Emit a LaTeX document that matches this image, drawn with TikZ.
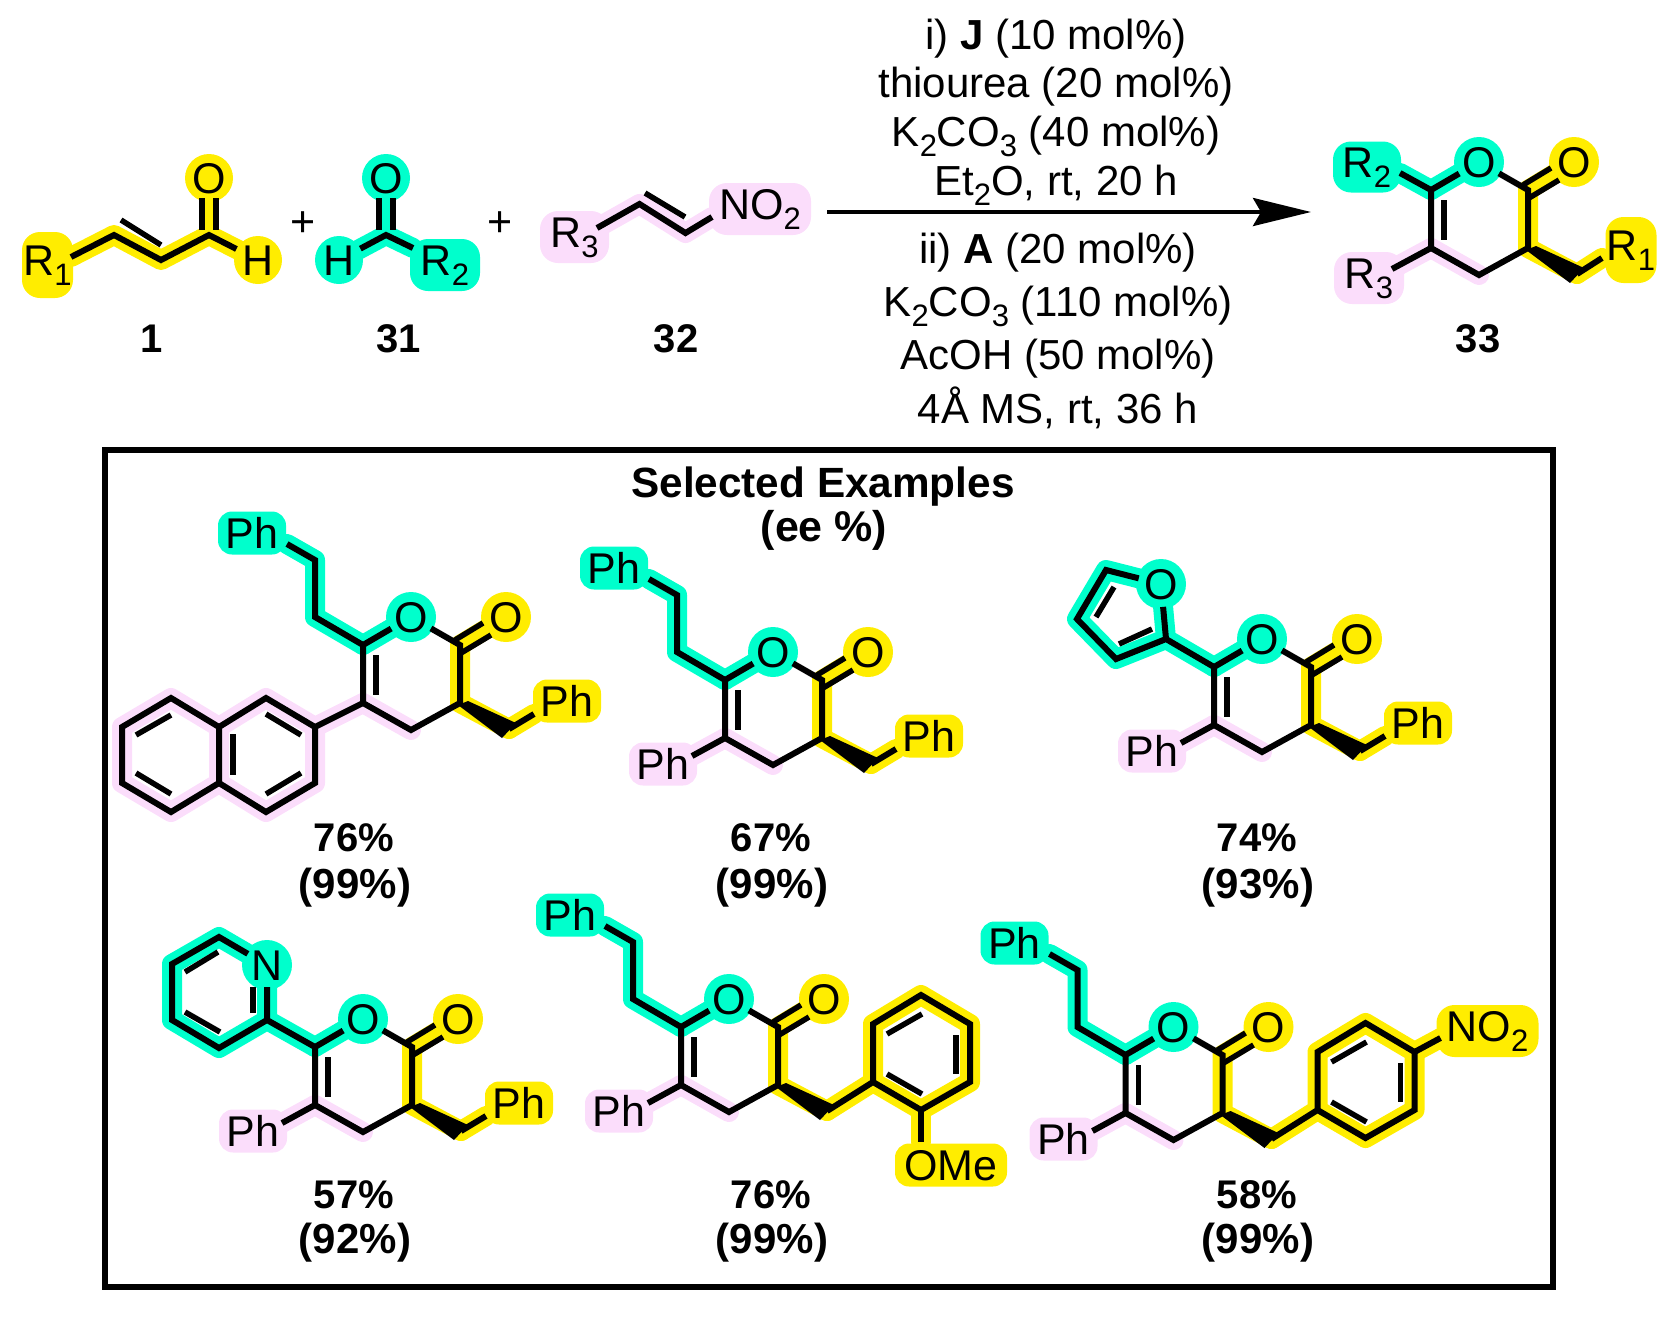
\documentclass[tikz,border=0pt]{standalone}
\usepackage{fontspec}
\setmainfont{Liberation Sans}
\usetikzlibrary{arrows.meta}
\definecolor{chemyellow}{HTML}{FFED00}
\definecolor{chemmint}{HTML}{00FFCC}
\definecolor{chempink}{HTML}{FBDDFB}
\newcommand{\labelfont}{\fontsize{43pt}{48pt}\selectfont}
\newcommand{\lowered}[1]{\raisebox{-10pt}{\fontsize{31pt}{31pt}\selectfont #1}}
\tikzset{
  bond/.style={line width=6pt, color=black},
  inner/.style={line width=5.5pt, color=black},
  glowy/.style={line width=20pt, color=chemyellow, line cap=round, line join=round},
  glowm/.style={line width=20pt, color=chemmint, line cap=round, line join=round},
  glowp/.style={line width=20pt, color=chempink, line cap=round, line join=round},
  atom/.style={circle, minimum size=44pt, text height=31pt, text depth=0pt, font=\labelfont},
  ball/.style={atom, minimum size=48pt},
  blob/.style={rectangle, rounded corners=14pt, minimum width=68pt, minimum height=43pt, text height=31pt, text depth=0pt, font=\labelfont},
  subblob/.style={blob, text depth=11pt, rounded corners=18pt},
  cond/.style={anchor=base, font=\fontsize{42pt}{48pt}\selectfont},
  yield/.style={font=\fontsize{40pt}{48pt}\selectfont\bfseries},
  yieldb/.style={font=\fontsize{42pt}{48pt}\selectfont\bfseries},
}
\newcommand{\lactonebase}[1]{
  \coordinate (#1c6) at (0,0);
  \coordinate (#1c5) at (0,58);
  \coordinate (#1c4) at (48,85);
  \coordinate (#1c3) at (97,58);
  \coordinate (#1c2) at (97,0);
  \coordinate (#1p1) at (48,-28);
  \coordinate (#1p2) at (143,-28);
  \coordinate (#1ch) at (146,84);
  \fill [chemmint] (#1p1) circle (25pt);
  \fill [chemyellow] (#1p2) circle (25pt);
  \draw [glowm] (#1c6) -- (#1p1);
  \draw [glowy] (#1p2) -- (#1c2) -- (#1c3) -- (#1ch);
  \draw [glowp] (#1c5) -- (#1c4);
}
\newcommand{\lactonebonds}[1]{
  \node (#1o1) [atom] at (#1p1) {O};
  \node (#1o2) [atom] at (#1p2) {O};
  \coordinate (#1d1) at (13,10);
  \coordinate (#1d2) at (13,50);
  \coordinate (#1e1) at (92,-5);
  \coordinate (#1e2) at (120,-22);
  \coordinate (#1e3) at (98,8);
  \coordinate (#1e4) at (128,-10);
  \coordinate (#1w1) at (139,93);
  \coordinate (#1w2) at (153,78);
  \coordinate (#1w3) at (95,60);
  \coordinate (#1w4) at (105,56);
  \draw [bond] (#1o1) -- (#1c6) -- (#1c5) -- (#1c4) -- (#1c3) -- (#1c2) -- (#1o1);
  \draw [inner] (#1d1) -- (#1d2);
  \draw [inner] (#1e1) -- (#1e2);
  \draw [inner] (#1e3) -- (#1e4);
  \fill (#1w3) -- (#1w1) -- (#1w2) -- (#1w4) -- cycle;
}
\newcommand{\sidechain}[1]{
  \coordinate (#1s1) at (-48,-28);
  \coordinate (#1s2) at (-48,-85);
  \coordinate (#1s3) at (-76,-101);
  \draw [glowm] (#1c6) -- (#1s1) -- (#1s2) -- (#1s3);
  \node (#1ph1) [blob, fill=chemmint] at (-111,-112) {Ph};
  \draw [bond] (#1c6) -- (#1s1) -- (#1s2) -- (#1s3);
}
\newcommand{\sidephenyl}[1]{
  \coordinate (#1t1) at (-33,76);
  \draw [glowp] (#1c5) -- (#1t1);
  \node (#1ph2) [blob, fill=chempink] at (-62,84) {Ph};
  \draw [bond] (#1c5) -- (#1t1);
}
\newcommand{\sidebenzyl}[1]{
  \coordinate (#1u1) at (171,69);
  \draw [glowy] (#1ch) -- (#1u1);
  \node (#1ph3) [blob, fill=chemyellow] at (204,56) {Ph};
  \draw [bond] (#1ch) -- (#1u1);
}
\newcommand{\sidearyl}[1]{
  \coordinate (#1r1) at (192,55);
  \coordinate (#1r2) at (192,-3);
  \coordinate (#1r3) at (240,-32);
  \coordinate (#1r4) at (289,-3);
  \coordinate (#1r5) at (289,55);
  \coordinate (#1r6) at (240,83);
  \coordinate (#1v1) at (206,7);
  \coordinate (#1v2) at (241,-13);
  \coordinate (#1v3) at (275,8);
  \coordinate (#1v4) at (275,47);
  \coordinate (#1v5) at (206,47);
  \coordinate (#1v6) at (241,67);
  \draw [glowy] (#1ch) -- (#1r1) -- (#1r2) -- (#1r3) -- (#1r4) -- (#1r5) -- (#1r6) -- (#1r1);
}
\newcommand{\arylbonds}[1]{
  \draw [bond] (#1ch) -- (#1r1) -- (#1r2) -- (#1r3) -- (#1r4) -- (#1r5) -- (#1r6) -- (#1r1);
  \draw [inner] (#1v1) -- (#1v2);
  \draw [inner] (#1v3) -- (#1v4);
  \draw [inner] (#1v5) -- (#1v6);
}
\begin{document}
\begin{tikzpicture}
[every node/.style={inner sep=0pt}, x=1pt, y=-1pt]
\useasboundingbox (0,0) rectangle (1678,1318);
\coordinate (m1) at (71,257);
\coordinate (m2) at (114,235);
\coordinate (m3) at (161,260);
\coordinate (m4) at (209,235);
\coordinate (m5) at (209,178);
\coordinate (m6) at (258,260);
\coordinate (m7) at (121,220);
\coordinate (m8) at (161,245);
\coordinate (m9) at (202,198);
\coordinate (m10) at (202,230);
\coordinate (m11) at (216,198);
\coordinate (m12) at (216,230);
\draw [glowy] (m1) -- (m2) -- (m3) -- (m4) -- (m6);
\draw [glowy] (m4) -- (m5);
\node (r1a) [subblob, fill=chemyellow, minimum width=51pt, minimum height=66pt] at (47.5,265) {R\lowered{1}};
\node (o1a) [ball, fill=chemyellow] at (m5) {O};
\node (h1a) [ball, fill=chemyellow] at (m6) {H};
\draw [bond] (m1) -- (m2) -- (m3) -- (m4) -- (h1a);
\draw [inner] (m7) -- (m8);
\draw [inner] (m9) -- (m10);
\draw [inner] (m11) -- (m12);
\coordinate (n1) at (386,235);
\coordinate (n2) at (386,178);
\coordinate (n3) at (339,260);
\coordinate (n4) at (413,248);
\coordinate (n5) at (379,198);
\coordinate (n6) at (379,230);
\coordinate (n7) at (393,198);
\coordinate (n8) at (393,230);
\draw [glowm] (n3) -- (n1) -- (n4);
\draw [glowm] (n1) -- (n2);
\node (o1b) [ball, fill=chemmint] at (n2) {O};
\node (h1b) [ball, fill=chemmint] at (n3) {H};
\node (r2a) [subblob, fill=chemmint, minimum width=70pt, minimum height=52pt] at (445,265) {R\lowered{2}};
\draw [bond] (h1b) -- (n1) -- (n4);
\draw [inner] (n5) -- (n6);
\draw [inner] (n7) -- (n8);
\coordinate (k1) at (597,228);
\coordinate (k2) at (639.5,204);
\coordinate (k3) at (685.5,233);
\coordinate (k4) at (712,217);
\coordinate (k5) at (645,193);
\coordinate (k6) at (685,217);
\draw [glowp] (k1) -- (k2) -- (k3) -- (k4);
\node (r3a) [subblob, fill=chempink, minimum width=69pt, minimum height=52pt] at (574.5,237) {R\lowered{3}};
\node (no2a) [subblob, fill=chempink, minimum width=102pt, minimum height=52pt] at (760,209) {NO\lowered{2}};
\draw [bond] (k1) -- (k2) -- (k3) -- (k4);
\draw [inner] (k5) -- (k6);
\node (plus1) [font=\labelfont] at (303,224) {+};
\node (plus2) [font=\labelfont] at (500,224) {+};
\node (lab1) [yield] at (152,339) {1};
\node (lab31) [yield] at (399,339) {31};
\node (lab32) [yield] at (676,339) {32};
\node (lab33) [yield] at (1478,339) {33};
\coordinate (arrowa) at (827,212);
\coordinate (arrowb) at (1311,212);
\draw [line width=4pt, -{Stealth[length=58pt, width=28pt, inset=8pt]}] (arrowa) -- (arrowb);
\node (c1) [cond] at (1056,49) {i) \textbf{J} (10 mol\%)};
\node (c2) [cond] at (1056,97) {thiourea (20 mol\%)};
\node (c3) [cond] at (1056,146) {K\lowered{2}CO\lowered{3} (40 mol\%)};
\node (c4) [cond] at (1056,195) {Et\lowered{2}O, rt, 20 h};
\node (c5) [cond] at (1058,263) {ii) \textbf{A} (20 mol\%)};
\node (c6) [cond] at (1058,316) {K\lowered{2}CO\lowered{3} (110 mol\%)};
\node (c7) [cond] at (1058,369) {AcOH (50 mol\%)};
\node (c8) [cond] at (1058,423) {4Å MS, rt, 36 h};
\begin{scope}[shift={(1431,190)}]
\lactonebase{p}
\coordinate (pa) at (-31,-17);
\coordinate (pb) at (-39,79);
\coordinate (pc) at (171,68);
\draw [glowm] (pc6) -- (pa);
\draw [glowp] (pc5) -- (pb);
\draw [glowy] (pch) -- (pc);
\node (pr2) [subblob, fill=chemmint, minimum width=68pt, minimum height=51pt] at (-64,-23) {R\lowered{2}};
\node (pr3) [subblob, fill=chempink, minimum width=70pt, minimum height=52pt] at (-62,88) {R\lowered{3}};
\node (pr1) [subblob, fill=chemyellow, minimum width=51pt, minimum height=66pt] at (200,60) {R\lowered{1}};
\draw [bond] (pc6) -- (pa);
\draw [bond] (pc5) -- (pb);
\draw [bond] (pch) -- (pc);
\lactonebonds{p}
\end{scope}
\draw [line width=6pt] (105,450) rectangle (1553,1287);
\node (title1) [yield, font=\fontsize{42.3pt}{48pt}\selectfont\bfseries] at (823,487) {Selected Examples};
\node (title2) [yield, font=\fontsize{43pt}{48pt}\selectfont\bfseries] at (824,530) {(ee \%)};
\begin{scope}[shift={(363,645)}]
\lactonebase{a}
\sidechain{a}
\sidebenzyl{a}
\coordinate (a1) at (-48,82);
\coordinate (a2) at (-48,138);
\coordinate (a3) at (-97,167);
\coordinate (a4) at (-144,138);
\coordinate (a5) at (-144,82);
\coordinate (a6) at (-97,53);
\coordinate (a7) at (-192,167);
\coordinate (a8) at (-241,138);
\coordinate (a9) at (-241,82);
\coordinate (a10) at (-192,53);
\draw [glowp] (ac5) -- (a1) -- (a2) -- (a3) -- (a4) -- (a5) -- (a6) -- (a1);
\draw [glowp] (a4) -- (a7) -- (a8) -- (a9) -- (a10) -- (a5);
\draw [bond] (ac5) -- (a1) -- (a2) -- (a3) -- (a4) -- (a5) -- (a6) -- (a1);
\draw [bond] (a4) -- (a7) -- (a8) -- (a9) -- (a10) -- (a5);
\coordinate (b1) at (-97,69);
\coordinate (b2) at (-62,90);
\coordinate (b3) at (-62,128);
\coordinate (b4) at (-97,149);
\coordinate (b5) at (-130,89);
\coordinate (b6) at (-130,130);
\coordinate (b7) at (-192,70);
\coordinate (b8) at (-227,90);
\coordinate (b9) at (-227,128);
\coordinate (b10) at (-192,149);
\draw [inner] (b1) -- (b2);
\draw [inner] (b3) -- (b4);
\draw [inner] (b5) -- (b6);
\draw [inner] (b7) -- (b8);
\draw [inner] (b9) -- (b10);
\lactonebonds{a}
\end{scope}
\node (y1a) [yield] at (354,838) {76\%};
\node (y1b) [yieldb] at (355,888) {(99\%)};
\begin{scope}[shift={(725,680)}]
\lactonebase{c}
\sidechain{c}
\sidephenyl{c}
\sidebenzyl{c}
\lactonebonds{c}
\end{scope}
\node (y2a) [yield] at (771,838) {67\%};
\node (y2b) [yieldb] at (772,888) {(99\%)};
\begin{scope}[shift={(1214,667)}]
\lactonebase{f}
\sidephenyl{f}
\sidebenzyl{f}
\coordinate (f1) at (-48,-28);
\coordinate (f2) at (-53,-83);
\coordinate (f3) at (-108,-97);
\coordinate (f4) at (-137,-48);
\coordinate (f5) at (-98,-8);
\coordinate (f6) at (-100,-80);
\coordinate (f7) at (-118,-50);
\coordinate (f8) at (-95,-23);
\coordinate (f9) at (-62,-38);
\fill [chemmint] (f2) circle (25pt);
\draw [glowm] (fc6) -- (f1) -- (f2) -- (f3) -- (f4) -- (f5) -- (f1);
\node (fo3) [atom] at (f2) {O};
\draw [bond] (fc6) -- (f1) -- (f5) -- (f4) -- (f3) -- (fo3) -- (f1);
\draw [inner] (f6) -- (f7);
\draw [inner] (f8) -- (f9);
\lactonebonds{f}
\end{scope}
\node (y3a) [yield] at (1257,838) {74\%};
\node (y3b) [yieldb] at (1258,888) {(93\%)};
\begin{scope}[shift={(315,1047)}]
\lactonebase{g}
\sidephenyl{g}
\sidebenzyl{g}
\coordinate (g1) at (-48,-27);
\coordinate (g2) at (-48,-82);
\coordinate (g3) at (-96,-110);
\coordinate (g4) at (-143,-83);
\coordinate (g5) at (-143,-27);
\coordinate (g6) at (-96,1);
\coordinate (g7) at (-62,-60);
\coordinate (g8) at (-62,-34);
\coordinate (g9) at (-97,-95);
\coordinate (g10) at (-130,-75);
\coordinate (g11) at (-130,-35);
\coordinate (g12) at (-95,-15);
\fill [chemmint] (g2) circle (25pt);
\draw [glowm] (gc6) -- (g1) -- (g2) -- (g3) -- (g4) -- (g5) -- (g6) -- (g1);
\node (gn1) [atom] at (g2) {N};
\draw [bond] (gc6) -- (g1) -- (g6) -- (g5) -- (g4) -- (g3) -- (gn1) -- (g1);
\draw [inner] (g7) -- (g8);
\draw [inner] (g9) -- (g10);
\draw [inner] (g11) -- (g12);
\lactonebonds{g}
\end{scope}
\node (y4a) [yield] at (354,1195) {57\%};
\node (y4b) [yieldb] at (355,1243) {(92\%)};
\begin{scope}[shift={(681,1027)}]
\lactonebase{h}
\sidechain{h}
\sidephenyl{h}
\sidearyl{h}
\coordinate (h1) at (240,115);
\draw [glowy] (hr6) -- (h1);
\node (home) [blob, fill=chemyellow, minimum width=112pt] at (270,138) {OMe};
\draw [bond] (hr6) -- (h1);
\arylbonds{h}
\lactonebonds{h}
\end{scope}
\node (y5a) [yield] at (771,1195) {76\%};
\node (y5b) [yieldb] at (772,1243) {(99\%)};
\begin{scope}[shift={(1125.5,1055)}]
\lactonebase{j}
\sidechain{j}
\sidephenyl{j}
\sidearyl{j}
\coordinate (j1) at (315,-17);
\draw [glowy] (jr4) -- (j1);
\node (jno2) [subblob, fill=chemyellow, minimum width=102pt, minimum height=52pt] at (362,-24) {NO\lowered{2}};
\draw [bond] (jr4) -- (j1);
\arylbonds{j}
\lactonebonds{j}
\end{scope}
\node (y6a) [yield] at (1257,1195) {58\%};
\node (y6b) [yieldb] at (1258,1243) {(99\%)};
\end{tikzpicture}
\end{document}
